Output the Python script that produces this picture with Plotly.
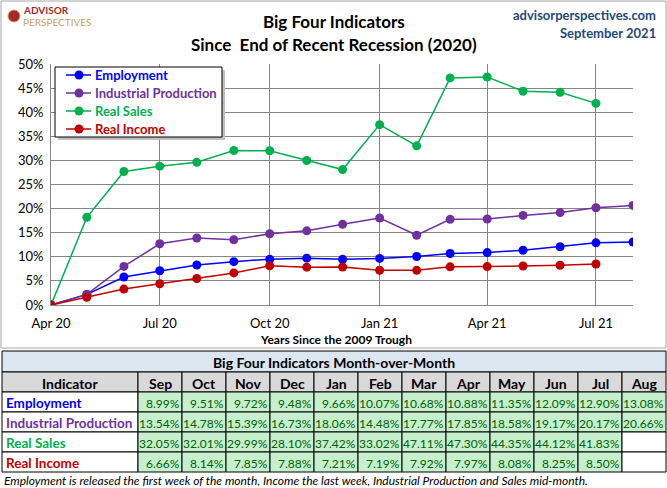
import plotly.graph_objs as go

months = ['2020-04-01', '2020-05-01', '2020-06-01', '2020-07-01', '2020-08-01',
          '2020-09-01', '2020-10-01', '2020-11-01', '2020-12-01', '2021-01-01',
          '2021-02-01', '2021-03-01', '2021-04-01', '2021-05-01', '2021-06-01',
          '2021-07-01', '2021-08-01']
table_months = ['Sep', 'Oct', 'Nov', 'Dec', 'Jan', 'Feb', 'Mar', 'Apr', 'May', 'Jun', 'Jul', 'Aug']

employment = [0, 2.2, 5.8, 7.1, 8.3, 8.99, 9.51, 9.72, 9.48, 9.66, 10.07, 10.68,
              10.88, 11.35, 12.09, 12.90, 13.08]
industrial = [0, 2.2, 8.0, 12.7, 13.9, 13.54, 14.78, 15.39, 16.73, 18.06, 14.48, 17.77,
              17.85, 18.58, 19.17, 20.17, 20.66]
real_sales = [0, 18.2, 27.7, 28.8, 29.6, 32.05, 32.01, 29.99, 28.10, 37.42, 33.02, 47.11,
              47.30, 44.35, 44.12, 41.83]
real_income = [0, 1.6, 3.3, 4.4, 5.5, 6.66, 8.14, 7.85, 7.88, 7.21, 7.19, 7.92,
               7.97, 8.08, 8.25, 8.50]

names = ['Employment', 'Industrial Production', 'Real Sales', 'Real Income']
colors = ['#0000FF', '#7030A0', '#00B050', '#C00000']
series = [employment, industrial, real_sales, real_income]

W, H = 667, 488
font = 'Lato'

def px(x):
    return x / W

def py(y):
    return 1 - y / H

def rect(x0, y0, x1, y1, fill, line='black', width=1):
    return {'type': 'rect', 'xref': 'paper', 'yref': 'paper',
            'x0': px(x0), 'x1': px(x1), 'y0': py(y1), 'y1': py(y0),
            'fillcolor': fill, 'line': {'color': line, 'width': width}}

def label(text, x, y, size, color='black', anchor='center'):
    return {'text': text, 'x': px(x), 'y': py(y), 'xref': 'paper', 'yref': 'paper',
            'showarrow': False, 'font': {'size': size, 'color': color},
            'xanchor': anchor, 'yanchor': 'middle', 'borderpad': 0}

data = []
for name, color, values in zip(names, colors, series):
    data.append(go.Scatter(
        x = months[:len(values)],
        y = values,
        mode = 'lines+markers',
        name = name,
        line = {'color': color, 'width': 1.5},
        marker = {'color': color, 'size': 9},
        showlegend = False,
    ))

shapes = [
    # chart border
    rect(1, 1, 666, 348, 'rgba(0,0,0,0)', '#A6A6A6'),
    # logo mark
    {'type': 'circle', 'xref': 'paper', 'yref': 'paper',
     'x0': px(8), 'x1': px(20), 'y0': py(22), 'y1': py(10),
     'fillcolor': '#A52A2A', 'line': {'color': '#C8A060', 'width': 1}},
    # legend box with its shadow
    rect(58, 70, 225, 140, '#BFBFBF', '#BFBFBF', 0),
    rect(55, 67, 222, 137, 'white', 'black'),
]

annotations = [
    label('<b>Big Four Indicators</b>', 334, 22, 17),
    label('<b>Since  End of Recent Recession (2020)</b>', 334, 45, 17),
    label('<b>advisorperspectives.com</b>', 657, 15, 13, '#1F497D', 'right'),
    label('<b>September 2021</b>', 657, 33, 13, '#1F497D', 'right'),
    label('<b>ADVISOR</b>', 22, 10, 10, '#A52A2A', 'left'),
    label('PERSPECTIVES', 22, 22, 10, '#C8A060', 'left'),
    label('<b>Years Since the 2009 Trough</b>', 336, 339, 12),
    label('<i>Employment is released the first week of the month, Income the last week, '
          'Industrial Production and Sales mid-month.</i>', 3, 480, 12, 'black', 'left'),
]

# legend entries
for i, (name, color) in enumerate(zip(names, colors)):
    ly = 75 + 18 * i
    shapes.append({'type': 'line', 'xref': 'paper', 'yref': 'paper',
                   'x0': px(66), 'x1': px(91), 'y0': py(ly), 'y1': py(ly),
                   'line': {'color': color, 'width': 1.5}})
    shapes.append({'type': 'circle', 'xref': 'paper', 'yref': 'paper',
                   'x0': px(74.5), 'x1': px(83.5), 'y0': py(ly + 4.5), 'y1': py(ly - 4.5),
                   'fillcolor': color, 'line': {'color': color, 'width': 0}})
    annotations.append(label('<b>%s</b>' % name, 94, ly, 13, color, 'left'))

# month-over-month table, cells drawn from the same series (Sep 20 onwards)
tx0, tx1, lab_w, col_w = 2, 666, 136, 44
title_top, head_top, row_h = 351, 372, 20
shapes.append(rect(tx0, title_top, tx1, head_top, '#DCE6F1'))
annotations.append(label('<b>Big Four Indicators Month-over-Month</b>', 334, 362, 14))

shapes.append(rect(tx0, head_top, tx0 + lab_w, head_top + row_h, '#D9D9D9'))
annotations.append(label('<b>Indicator</b>', tx0 + lab_w / 2, head_top + row_h / 2 + 1, 14))
for j, m in enumerate(table_months):
    cx0 = tx0 + lab_w + j * col_w
    shapes.append(rect(cx0, head_top, cx0 + col_w, head_top + row_h, '#D9D9D9'))
    annotations.append(label('<b>%s</b>' % m, cx0 + col_w / 2, head_top + row_h / 2 + 1, 14))

for i, (name, color, values) in enumerate(zip(names, colors, series)):
    ry0 = head_top + row_h * (i + 1)
    ry1 = ry0 + row_h
    shapes.append(rect(tx0, ry0, tx0 + lab_w, ry1, 'white'))
    annotations.append(label('<b>%s</b>' % name, tx0 + 3, ry0 + row_h / 2 + 1, 13.5, color, 'left'))
    for j in range(len(table_months)):
        cx0 = tx0 + lab_w + j * col_w
        idx = 5 + j
        if idx < len(values):
            shapes.append(rect(cx0, ry0, cx0 + col_w, ry1, '#C6EFCE'))
            annotations.append(label('%.2f%%' % values[idx], cx0 + col_w - 1, ry0 + row_h / 2 + 1,
                                     12, '#006100', 'right'))
        else:
            shapes.append(rect(cx0, ry0, cx0 + col_w, ry1, 'white'))

layout = {
    'width': W,
    'height': H,
    'margin': {'l': 0, 'r': 0, 't': 0, 'b': 0},
    'paper_bgcolor': 'white',
    'plot_bgcolor': 'white',
    'font': {'family': font, 'size': 12, 'color': 'black'},
    'xaxis': {
        'domain': [px(51), px(633)],
        'type': 'date',
        'range': ['2020-04-01', '2021-08-01'],
        'tickvals': ['2020-04-01', '2020-07-01', '2020-10-01', '2021-01-01', '2021-04-01', '2021-07-01'],
        'tickformat': '%b %y',
        'showgrid': True,
        'gridcolor': '#868686',
        'gridwidth': 1,
        'showline': True,
        'linecolor': '#868686',
        'ticks': '',
        'ticklabelstandoff': 6,
        'tickfont': {'size': 13},
        'automargin': False,
        'fixedrange': True,
    },
    'yaxis': {
        'domain': [py(305), py(64)],
        'range': [0, 50],
        'dtick': 5,
        'ticksuffix': '%',
        'showgrid': True,
        'gridcolor': '#868686',
        'gridwidth': 1,
        'zeroline': False,
        'showline': True,
        'linecolor': '#868686',
        'ticks': '',
        'ticklabelstandoff': 4,
        'tickfont': {'size': 13},
        'automargin': False,
        'fixedrange': True,
    },
    'showlegend': False,
    'shapes': shapes,
    'annotations': annotations,
}

fig = go.Figure(data = data, layout = layout)
# drop the default page margin so the figure fills the window exactly
fig.write_html("out.html", config = {'displayModeBar': False},
               post_script = "document.body.style.margin = '0';")
